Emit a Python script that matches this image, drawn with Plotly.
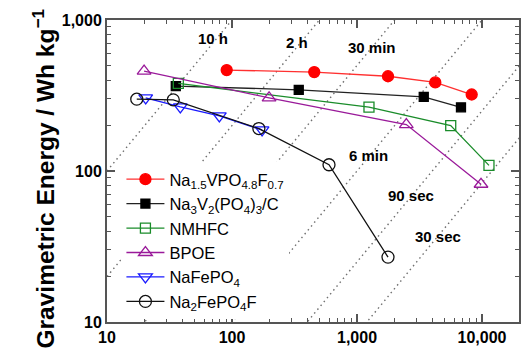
import plotly.graph_objects as go
import numpy as np

# ---------------- data ----------------
na15_power = [90.7, 455, 1770, 4230, 8270]
na15_energy = [466, 452, 424, 386, 321]

nvp_power = [35.5, 342, 3420, 6790]
nvp_energy = [365, 345, 310, 264]

nmhfc_power = [37.2, 1247, 5620, 11370]
nmhfc_energy = [380, 265, 200, 109]

bpoe_power = [19.8, 198, 2480, 9820]
bpoe_energy = [459, 305, 203, 81.7]

nafepo4_power = [20.4, 38.6, 79.2, 174]
nafepo4_energy = [305, 266, 232, 187]

na2fepo4f_power = [17.3, 33.9, 164, 597, 1770]
na2fepo4f_energy = [299, 296, 191, 110, 26.9]

# constant-time lines (hours) and labels
time_hours = [10, 2, 0.5, 0.1, 0.025, 1 / 120]
time_labels = ["10 h", "2 h", "30 min", "6 min", "90 sec", "30 sec"]
label_power = [70.5, 331, 1318, 1225, 2690, 4430]
label_energy = [760, 714, 655, 127, 69.2, 37]

x_ticks = [10, 100, 1000, 10000]
x_ticktext = ["10", "100", "1,000", "10,000"]
y_ticks = [10, 100, 1000]
y_ticktext = ["10", "100", "1,000"]

FONT = "Arial, Liberation Sans, sans-serif"

fig = go.Figure()

# dotted constant-time lines
p_line = np.logspace(1, 4.31, 60)
for t in time_hours:
    fig.add_trace(go.Scatter(x=p_line, y=p_line * t, mode="lines",
                             line=dict(color="#707070", width=1.4, dash="1.5px,3.5px"),
                             showlegend=False, hoverinfo="skip"))

series = [
    ("Na<sub>1.5</sub>VPO<sub>4.8</sub>F<sub>0.7</sub>", na15_power, na15_energy,
     "#ff3030", "circle", "#ff0000", 11),
    ("Na<sub>3</sub>V<sub>2</sub>(PO<sub>4</sub>)<sub>3</sub>/C", nvp_power, nvp_energy,
     "#222222", "square", "#000000", 9),
    ("NMHFC", nmhfc_power, nmhfc_energy,
     "#1a8c2a", "square-open", "#1a8c2a", 10),
    ("BPOE", bpoe_power, bpoe_energy,
     "#9a1a9a", "triangle-up-open", "#9a1a9a", 12),
    ("NaFePO<sub>4</sub>", nafepo4_power, nafepo4_energy,
     "#1a1aff", "triangle-down-open", "#1a1aff", 12),
    ("Na<sub>2</sub>FePO<sub>4</sub>F", na2fepo4f_power, na2fepo4f_energy,
     "#111111", "circle-open", "#111111", 12),
]
for name, xs, ys, lc, sym, mc, msz in series:
    fig.add_trace(go.Scatter(
        x=xs, y=ys, mode="lines+markers", name=name,
        line=dict(color=lc, width=1.3),
        marker=dict(symbol=sym, size=msz, color=mc,
                    line=dict(color=mc, width=1.3)),
        cliponaxis=False,
    ))

for txt, px, py in zip(time_labels, label_power, label_energy):
    fig.add_annotation(x=np.log10(px), y=np.log10(py), text="<b>%s</b>" % txt,
                       showarrow=False, font=dict(family=FONT, size=15, color="black"))

# y-axis title
fig.add_annotation(xref="paper", yref="paper", x=(25 - 107) / 412, y=(322 - 179) / 302,
                   text="<b>Gravimetric Energy / Wh kg<sup>−1</sup></b>", textangle=-90,
                   showarrow=False, font=dict(family=FONT, size=24.5, color="black"))

axis_common = dict(
    type="log", showgrid=False, zeroline=False, automargin=False,
    showline=True, linecolor="#555555", linewidth=2, mirror="ticks",
    ticks="inside", ticklen=8, tickwidth=1.5, tickcolor="#555555",
    tickfont=dict(family=FONT, size=16, color="black", weight="bold"),
)
fig.update_xaxes(range=[1, 4.296], tickvals=x_ticks, ticktext=x_ticktext,
                 minor=dict(ticks="inside", ticklen=4, tickwidth=1.2, tickcolor="#555555",
                            tickvals=[m * d for d in [10, 100, 1000, 10000] for m in range(2, 10)]),
                 **axis_common)
fig.update_yaxes(range=[1, 3], tickvals=y_ticks, ticktext=y_ticktext,
                 minor=dict(ticks="inside", ticklen=4, tickwidth=1.2, tickcolor="#555555",
                            tickvals=[m * d for d in [10, 100] for m in range(2, 10)]),
                 **axis_common)

fig.update_layout(
    width=530, height=363,
    margin=dict(l=107, r=11, t=20, b=41),
    paper_bgcolor="white", plot_bgcolor="white",
    font=dict(family=FONT, color="black"),
    legend=dict(x=0.035, y=0.53, xanchor="left", yanchor="top",
                bgcolor="white", borderwidth=0,
                font=dict(family=FONT, size=16.5, color="black"),
                tracegroupgap=0, itemwidth=38),
)

fig.write_html("out.html", config={"displayModeBar": False},
               post_script="document.body.style.margin='0';")
